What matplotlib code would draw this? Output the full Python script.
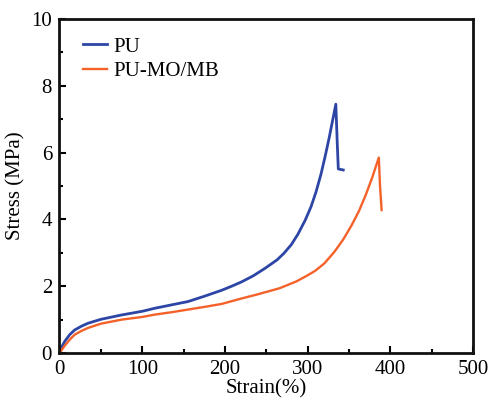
import matplotlib
matplotlib.use("Agg")
import matplotlib.pyplot as plt
from matplotlib.ticker import MultipleLocator

plt.rcParams['font.family'] = ['Liberation Serif', 'DejaVu Serif']

# Tensile curves: strain (%) and stress (MPa)
pu_strain = [0, 2, 6, 12, 18, 26, 34, 50, 75, 100, 115, 135, 155, 175, 196, 208,
             220, 234, 248, 263, 271, 280, 288, 297, 304, 310, 316, 321, 326, 330, 334,
             335.8, 337, 343]
pu_stress = [0, 0.17, 0.35, 0.55, 0.69, 0.80, 0.89, 1.01, 1.14, 1.25, 1.34, 1.44, 1.54, 1.70, 1.88, 2.00,
             2.13, 2.31, 2.53, 2.79, 2.98, 3.24, 3.55, 3.98, 4.38, 4.82, 5.35, 5.88, 6.45, 6.95, 7.45,
             6.23, 5.51, 5.48]

pumb_strain = [0, 2, 6, 12, 18, 26, 34, 50, 75, 100, 115, 135, 155, 175, 196, 218,
               240, 266, 286, 298, 309, 320, 332, 343, 353, 362, 370, 378, 386, 387.5, 389.4]
pumb_stress = [0, 0.08, 0.22, 0.40, 0.55, 0.66, 0.75, 0.88, 1.00, 1.08, 1.15, 1.22, 1.30, 1.38, 1.47, 1.62,
               1.76, 1.94, 2.14, 2.30, 2.46, 2.68, 3.02, 3.40, 3.82, 4.25, 4.72, 5.25, 5.85, 5.0, 4.28]

series_labels = ['PU', 'PU-MO/MB']
series_colors = ['#2D46A6', '#F4622A']

fig = plt.figure(figsize=(4.92, 4.05), dpi=100)
ax = fig.add_axes([59 / 492, 1 - 353 / 405, (473 - 59) / 492, (353 - 19) / 405])

ax.plot(pu_strain, pu_stress, color=series_colors[0], lw=2.0, label=series_labels[0])
ax.plot(pumb_strain, pumb_stress, color=series_colors[1], lw=1.7, label=series_labels[1])

ax.set_xlim(-1, 500)
ax.set_ylim(0, 10)
ax.xaxis.set_major_locator(MultipleLocator(100))
ax.xaxis.set_minor_locator(MultipleLocator(50))
ax.yaxis.set_major_locator(MultipleLocator(2))
ax.yaxis.set_minor_locator(MultipleLocator(1))
ax.tick_params(which='both', direction='in', top=False, right=False, labelsize=15, width=1.5)
ax.tick_params(which='major', length=5, pad=5)
ax.tick_params(which='minor', length=3)
for s in ax.spines.values():
    s.set_linewidth(2)
    s.set_color('#111111')

ax.set_xlabel('Strain(%)', fontsize=15, labelpad=0)
ax.set_ylabel('Stress (MPa)', fontsize=15, labelpad=4)

ax.legend(loc='upper left', fontsize=15, frameon=False, handlelength=1.15,
          handletextpad=0.3, borderaxespad=0.3, labelspacing=0.25,
          bbox_to_anchor=(0.023, 0.99))

fig.savefig('out.png', dpi=100)
